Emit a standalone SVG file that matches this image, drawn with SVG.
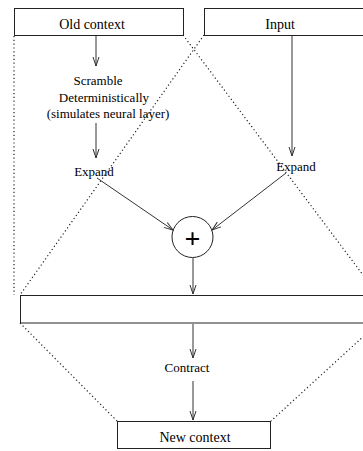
<svg xmlns="http://www.w3.org/2000/svg" width="363" height="451" viewBox="0 0 363 451">
  <style>
    .box { fill: #fff; stroke: #222; stroke-width: 1; }
    .dot { fill: none; stroke: #222; stroke-width: 1.2; stroke-dasharray: 1.2 2.6; }
    .arr { fill: none; stroke: #333; stroke-width: 1; marker-end: url(#head); }
    text { font-family: "Liberation Serif", "Times New Roman", serif; fill: #000; }
    .lbl { font-size: 13px; text-anchor: middle; }
    .blbl { font-size: 14px; text-anchor: middle; }
  </style>
  <defs>
    <marker id="head" viewBox="-10 -4 11 8" refX="0" refY="0" markerWidth="11" markerHeight="8" markerUnits="userSpaceOnUse" orient="auto">
      <path d="M-9,-3 L0,0 L-9,3" fill="none" stroke="#333" stroke-width="1"/>
    </marker>
  </defs>

  <rect width="363" height="451" fill="#fff"/>

  <!-- dotted outline of the expand / contract envelope -->
  <g id="envelope">
    <line class="dot" x1="14" y1="36" x2="14" y2="295"/>
    <line class="dot" x1="183" y1="35" x2="378" y2="295"/>
    <line class="dot" x1="204" y1="35" x2="20" y2="295"/>
    <line class="dot" x1="20" y1="323" x2="117" y2="421"/>
    <line class="dot" x1="378" y1="323" x2="271" y2="421"/>
  </g>

  <g id="old-context">
    <rect class="box" x="14.5" y="8.5" width="169" height="27"/>
    <text class="blbl" x="92" y="29">Old context</text>
  </g>

  <g id="input">
    <rect class="box" x="204.5" y="8.5" width="175" height="27"/>
    <text class="blbl" x="280" y="29">Input</text>
  </g>

  <g id="scramble">
    <text class="lbl" x="98" y="85">Scramble</text>
    <text class="lbl" x="104" y="102">Deterministically</text>
    <text class="lbl" x="108" y="118">(simulates neural layer)</text>
  </g>

  <g id="expand-left">
    <text class="lbl" x="94" y="176">Expand</text>
  </g>

  <g id="expand-right">
    <text class="lbl" x="296" y="171">Expand</text>
  </g>

  <g id="sum">
    <circle cx="192.5" cy="237" r="20.5" fill="#fff" stroke="#222" stroke-width="1"/>
    <text x="192.5" y="248" font-family="DejaVu Sans, sans-serif" font-size="28" font-weight="bold" text-anchor="middle">+</text>
  </g>

  <g id="state">
    <rect class="box" x="20.5" y="295.5" width="358" height="27.5"/>
  </g>

  <g id="contract">
    <text class="lbl" x="187" y="372">Contract</text>
  </g>

  <g id="new-context">
    <rect class="box" x="117.5" y="421.5" width="153" height="27"/>
    <text class="blbl" x="195" y="442">New context</text>
  </g>

  <g id="connectors">
    <line class="arr" x1="96" y1="36" x2="96" y2="66"/>
    <line class="arr" x1="96" y1="123" x2="96" y2="158"/>
    <line class="arr" x1="97" y1="178" x2="173" y2="230"/>
    <line class="arr" x1="292" y1="36" x2="292" y2="156"/>
    <line class="arr" x1="286" y1="173" x2="212" y2="230"/>
    <line class="arr" x1="193" y1="258" x2="193" y2="294"/>
    <line class="arr" x1="193" y1="324" x2="193" y2="358"/>
    <line class="arr" x1="193" y1="381" x2="193" y2="420"/>
  </g>
</svg>
